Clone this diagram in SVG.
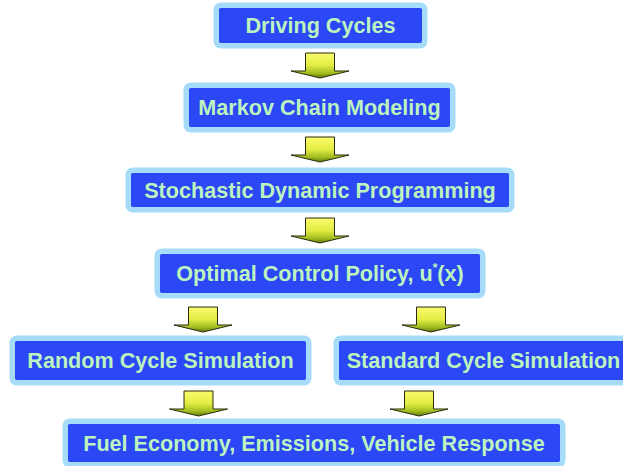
<svg xmlns="http://www.w3.org/2000/svg" width="623" height="466" viewBox="0 0 623 466">
<style>
.box{fill:#2b47f6;stroke:#a6dcf9;stroke-width:5.5}
.lbl{font-family:"Liberation Sans",Arial,sans-serif;font-weight:bold;font-size:21.6px;fill:#bdf3bf;text-anchor:middle}
.arr{fill:url(#g);stroke:#2a2a10;stroke-width:1}
</style>
<defs>
<linearGradient id="g" x1="0" y1="0" x2="0" y2="1">
<stop offset="0" stop-color="#fbfb6c"/>
<stop offset="0.5" stop-color="#e2ec44"/>
<stop offset="0.8" stop-color="#a4be20"/>
<stop offset="1" stop-color="#5e7a0c"/>
</linearGradient>
<path id="a" d="M-14.5,0 H14.5 V18 H29 L0,25 L-29,18 H-14.5 Z"/>
</defs>
<rect width="623" height="466" fill="#fff"/>
<g id="connectors">
<use href="#a" class="arr" x="320" y="53"/>
<use href="#a" class="arr" x="320" y="137"/>
<use href="#a" class="arr" x="320" y="218"/>
<use href="#a" class="arr" x="203" y="307"/>
<use href="#a" class="arr" x="431" y="307"/>
<use href="#a" class="arr" x="198.5" y="391"/>
<use href="#a" class="arr" x="419" y="391"/>
</g>
<g id="driving-cycles">
<rect class="box" x="216.25" y="5.25" width="208.5" height="40.5" rx="4.5"/>
<text class="lbl" x="320.5" y="33">Driving Cycles</text>
</g>
<g id="markov">
<rect class="box" x="186.25" y="85.25" width="266.5" height="44.5" rx="4.5"/>
<text class="lbl" x="319.5" y="115">Markov Chain Modeling</text>
</g>
<g id="sdp">
<rect class="box" x="128.25" y="170.25" width="383.5" height="39.5" rx="4.5"/>
<text class="lbl" x="320" y="197.5">Stochastic Dynamic Programming</text>
</g>
<g id="policy">
<rect class="box" x="157.25" y="251.25" width="325.5" height="44.5" rx="4.5"/>
<text class="lbl" x="320" y="281">Optimal Control Policy, u<tspan font-size="12" dy="-9">*</tspan><tspan dy="9">(x)</tspan></text>
</g>
<g id="random">
<rect class="box" x="12.25" y="338.25" width="296.5" height="44.5" rx="4.5"/>
<text class="lbl" x="160.5" y="368">Random Cycle Simulation</text>
</g>
<g id="standard">
<rect class="box" x="336.25" y="338.25" width="294.5" height="44.5" rx="4.5"/>
<text class="lbl" x="483.5" y="368">Standard Cycle Simulation</text>
</g>
<g id="fuel">
<rect class="box" x="65.25" y="421.25" width="497.5" height="43.5" rx="4.5"/>
<text class="lbl" x="314" y="450.5">Fuel Economy, Emissions, Vehicle Response</text>
</g>
</svg>
